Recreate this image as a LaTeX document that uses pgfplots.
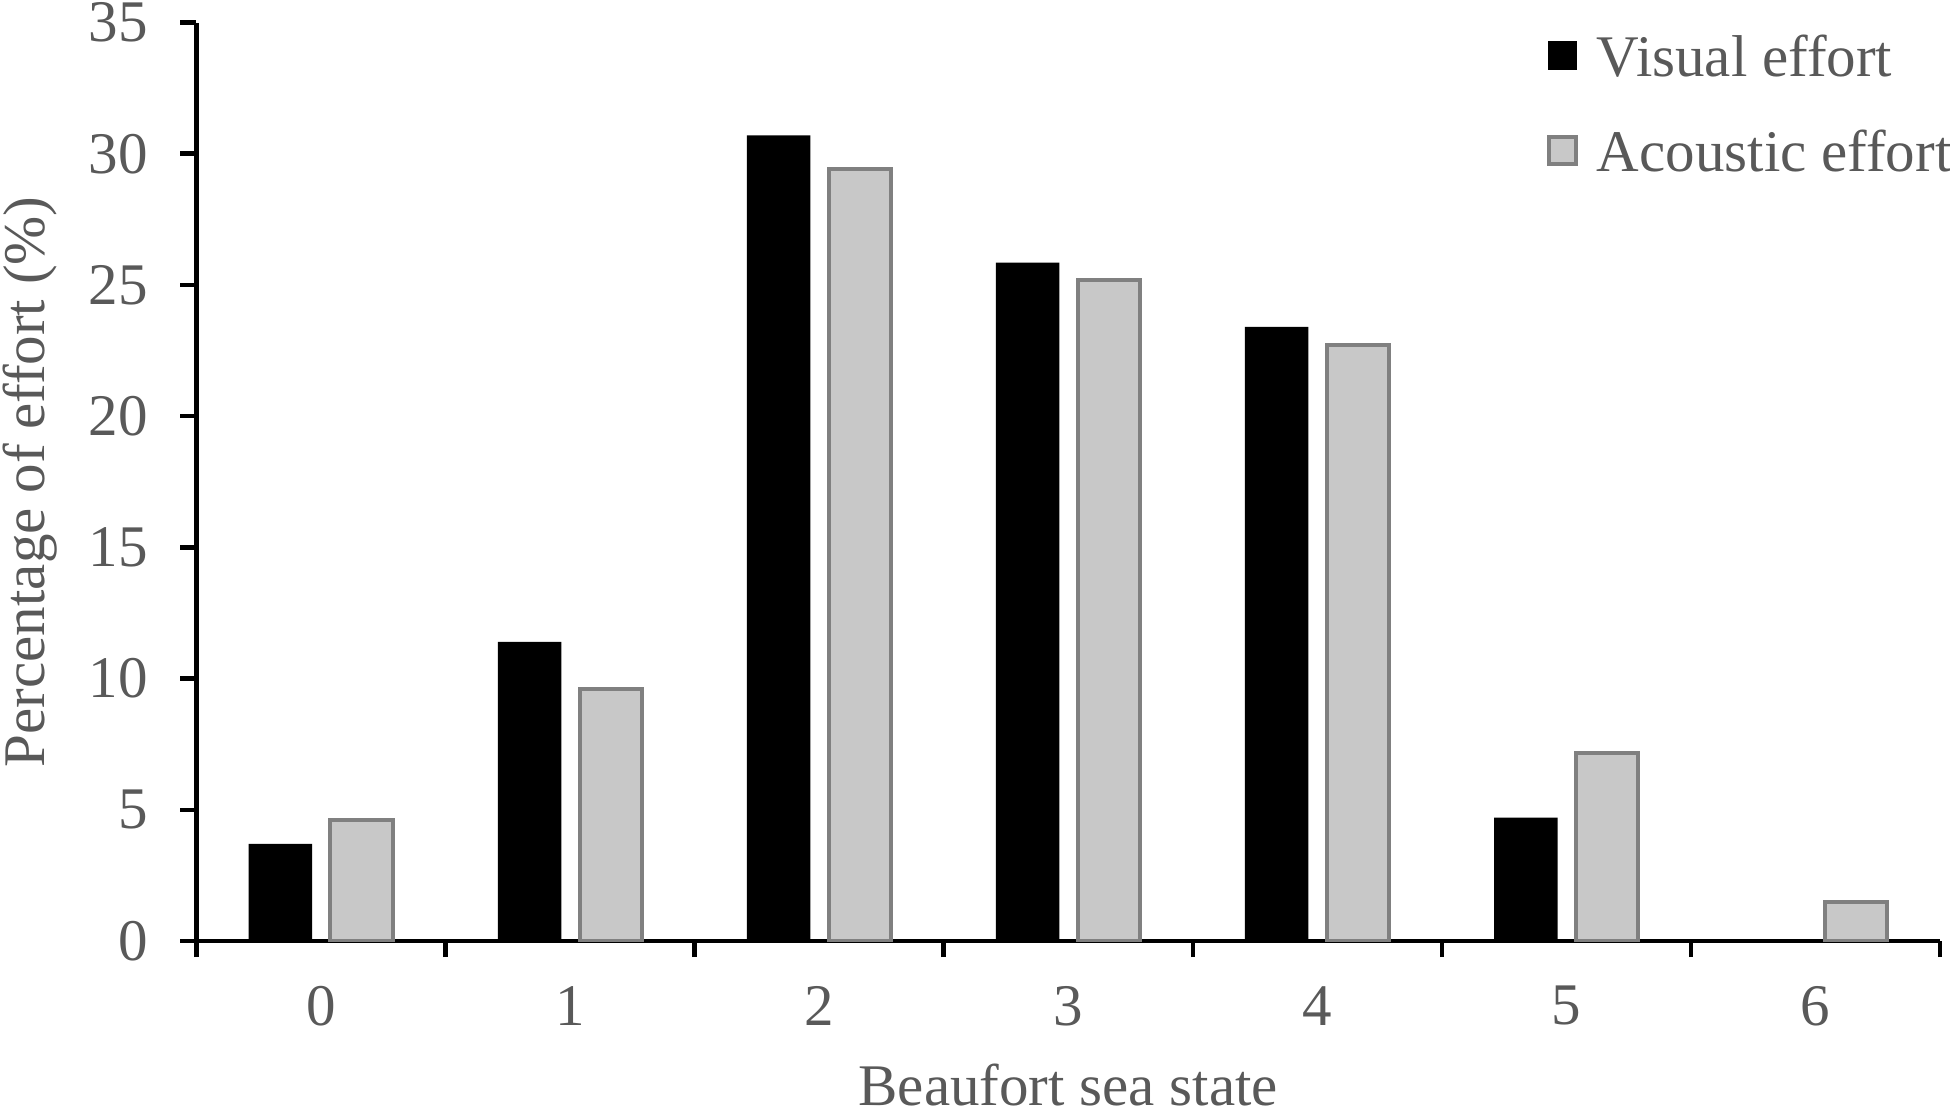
\documentclass[border=0pt]{standalone}
\usepackage{fontspec}
\setmainfont{Liberation Serif}
\usepackage{pgfplots}
\pgfplotsset{compat=1.18}
\definecolor{txtgray}{RGB}{89,89,89}
\definecolor{barfill}{RGB}{200,200,200}
\definecolor{barline}{RGB}{128,128,128}
\newcommand{\chartfont}{\fontsize{11.8}{14}\selectfont}
\begin{document}
\begin{tikzpicture}
\begin{axis}[
    name=ax,
    scale only axis,
    width=348.7pt, height=183.7pt,
    ybar,
    xmin=-0.5, xmax=6.5,
    ymin=0, ymax=35,
    axis lines*=left,
    axis line style={line width=0.9pt, black},
    xtick={0,...,6},
    minor xtick={-0.5,0.5,...,6.5},
    ytick={0,5,...,35},
    tick align=outside,
    major tick length=3.2pt,
    minor tick length=3.2pt,
    tick style={black, line width=0.9pt},
    major x tick style={draw=none},
    /pgf/number format/assume math mode=true,
    tick label style={font=\chartfont, text=txtgray},
    yticklabel style={xshift=-3.0pt},
    xticklabel style={yshift=-2.3pt},
    label style={font=\chartfont, text=txtgray},
    xlabel={Beaufort sea state},
    ylabel={Percentage of effort (\%)},
    xlabel style={at={(axis description cs:0.5,-0.1796)}, anchor=base},
    ylabel style={at={(axis description cs:-0.0869,0.5)}, anchor=base},
    legend image code/.code={\draw[#1] (0pt,-2.8pt) rectangle (5.4pt,2.6pt);},
    legend style={draw=none, fill=none, inner sep=0pt,
        font=\chartfont, text=txtgray,
        nodes={inner sep=0pt, text depth=0pt},
        column sep=3.8pt, row sep=10.7pt,
        at={(0.774,0.988)}, anchor=north west},
    legend cell align=left,
]
\addplot[fill=black, draw=none, bar width=0.255, bar shift=-0.163] coordinates {
    (0,3.7) (1,11.4) (2,30.7) (3,25.85) (4,23.4) (5,4.7) (6,0)
};
\addplot[fill=barfill, draw=barline, line width=0.8pt, bar width=0.25, bar shift=0.163] coordinates {
    (0,4.6) (1,9.6) (2,29.4) (3,25.2) (4,22.7) (5,7.15) (6,1.47)
};
\legend{Visual effort, Acoustic effort}
\end{axis}
\pgfresetboundingbox
\path[use as bounding box] ([xshift=-39.3pt, yshift=-34.6pt]ax.south west)
    rectangle ([xshift=2pt, yshift=4.5pt]ax.north east);
\end{tikzpicture}
\end{document}
